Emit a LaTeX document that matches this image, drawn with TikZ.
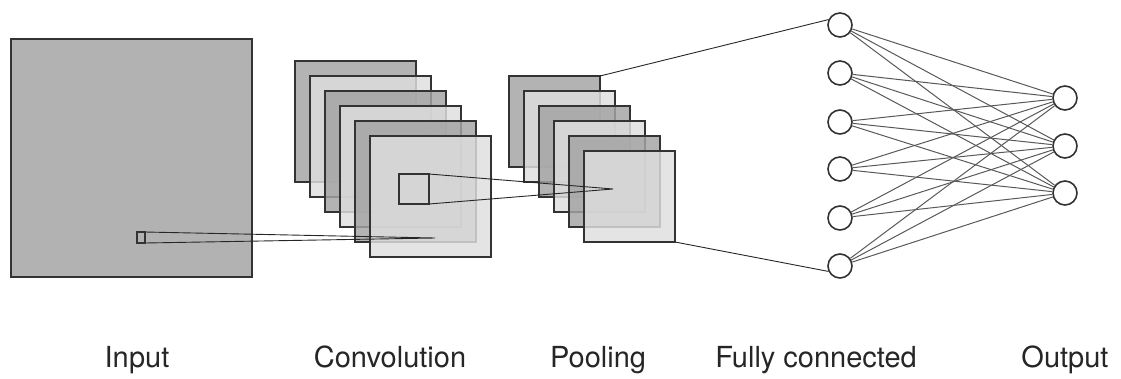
\documentclass[tikz,border=0pt]{standalone}
\usepackage{fontspec}
\setmainfont{TeX Gyre Heros}
\begin{document}
\begin{tikzpicture}
  [x=1pt,y=-1pt,
   fmap/.style={rectangle,draw=black!80,line width=1.6pt,outer sep=0pt,fill opacity=0.83,inner sep=0pt},
   dark/.style={fmap,fill=black!36},
   light/.style={fmap,fill=black!13},
   neuron/.style={circle,draw=black!80,fill=white,line width=1.6pt,minimum size=24pt,inner sep=0pt},
   link/.style={draw=black!85,line width=0.9pt},
   wire/.style={draw=black!65,line width=1pt},
   caption/.style={anchor=base,font=\fontsize{29}{31}\selectfont,text=black!85}]
\useasboundingbox (0,0) rectangle (1121,378); % keep margins
% input
\node at (131.5,158) (in) [fmap, fill=black!30, fill opacity=1, minimum width=241pt, minimum height=238pt] {};
\node at (141,237.5) (ib) [fmap, fill opacity=0, minimum width=8pt, minimum height=11pt] {};
% convolution
\node at (355.5,121.5) (c1) [dark,  minimum size=121pt] {};
\node at (370.5,136.5) (c2) [light, minimum size=121pt] {};
\node at (385.5,151.5) (c3) [dark,  minimum size=121pt] {};
\node at (400.5,166.5) (c4) [light, minimum size=121pt] {};
\node at (415.5,181.5) (c5) [dark,  minimum size=121pt] {};
\node at (430.5,196.5) (c6) [light, minimum size=121pt] {};
\node at (414,189) (cb) [fmap, fill opacity=0, minimum size=30pt] {};
\coordinate (cf) at (435,238);
\draw [link] (ib.north east) -- (cf) -- (ib.south east);
% pooling
\node at (554.5,121.5) (p1) [dark,  minimum size=91pt] {};
\node at (569.5,136.5) (p2) [light, minimum size=91pt] {};
\node at (584.5,151.5) (p3) [dark,  minimum size=91pt] {};
\node at (599.5,166.5) (p4) [light, minimum size=91pt] {};
\node at (614.5,181.5) (p5) [dark,  minimum size=91pt] {};
\node at (629.5,196.5) (p6) [light, minimum size=91pt] {};
\coordinate (pf) at (613,189);
\draw [link] (cb.north east) -- (pf) -- (cb.south east);
% fully connected and output
\foreach \i/\y in {1/25,2/73,3/122,4/169,5/218,6/266}
  \node at (840,\y) (f\i) [neuron] {};
\foreach \j/\y in {1/98,2/146,3/193}
  \node at (1065,\y) (o\j) [neuron] {};
\foreach \i in {1,...,6}
  \foreach \j in {1,2,3}
    \draw [wire] (f\i) -- (o\j);
\draw [link] (p1.north east) -- (f1.155);
\draw [link] (p6.south east) -- (f6.205);
% captions
\node at (137,367)  (tin)  [caption] {Input};
\node at (390,367)  (tcv)  [caption] {Convolution};
\node at (598,367)  (tpl)  [caption] {Pooling};
\node at (816,367)  (tfc)  [caption] {Fully connected};
\node at (1065,367) (tout) [caption] {Output};
\end{tikzpicture}
\end{document}
